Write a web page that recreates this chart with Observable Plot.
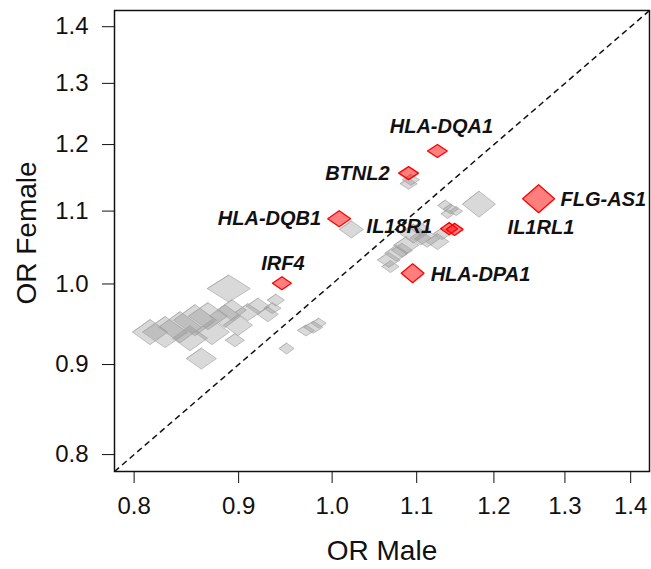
<!DOCTYPE html>
<html><head><meta charset="utf-8">
<script src="https://cdn.jsdelivr.net/npm/d3@7"></script>
<script src="https://cdn.jsdelivr.net/npm/@observablehq/plot@0.6"></script>
<style>body{margin:0;background:#fff}</style>
</head><body><div id="chart"></div>
<script>
// ---- data ----
const redGenes      = ["HLA-DQA1","BTNL2","HLA-DQB1","IRF4","HLA-DPA1","IL18R1","IL1RL1","FLG-AS1"];
const redOrMale     = [1.126, 1.090, 1.008, 0.945, 1.095, 1.141, 1.148, 1.262];
const redOrFemale   = [1.190, 1.156, 1.089, 1.001, 1.014, 1.075, 1.074, 1.118];
const redSizeMale   = [0.0112, 0.0112, 0.0129, 0.0107, 0.0129, 0.0096, 0.0096, 0.0180];
const redSizeFemale = [0.0085, 0.0085, 0.0105, 0.0085, 0.0124, 0.0079, 0.0079, 0.0183];

const grayOrMale = [
  1.180, 1.093, 1.090, 1.022, 1.136, 1.143, 1.150, 1.139,
  1.096, 1.113, 1.126, 1.132, 1.087, 1.075, 1.066, 1.068, 1.104, 1.082, 1.105,
  0.890, 0.863, 0.950, 0.979, 0.971, 0.985,
  0.8145, 0.8284, 0.8425, 0.8568, 0.8694, 0.852, 0.8733, 0.8862, 0.8932, 0.8993,
  0.9094, 0.9198, 0.9301, 0.9386, 0.935, 0.8962];
const grayOrFemale = [
  1.110, 1.146, 1.140, 1.074, 1.108, 1.103, 1.100, 1.096,
  1.068, 1.061, 1.057, 1.068, 1.052, 1.041, 1.032, 1.023, 1.075, 1.045, 1.062,
  0.994, 0.907, 0.919, 0.945, 0.941, 0.950,
  0.939, 0.939, 0.945, 0.9537, 0.9588, 0.9315, 0.939, 0.9588, 0.9664, 0.9476,
  0.9638, 0.9714, 0.9612, 0.9791, 0.9688, 0.9291];
const graySizeMale = [
  0.0186, 0.0096, 0.0096, 0.0135, 0.0084, 0.0084, 0.0073, 0.0073,
  0.0152, 0.0141, 0.0129, 0.0096, 0.0141, 0.0129, 0.0129, 0.0096, 0.0107, 0.0118, 0.0118,
  0.0242, 0.0169, 0.0084, 0.0107, 0.0096, 0.0084,
  0.0197, 0.0253, 0.0242, 0.0242, 0.0219, 0.0197, 0.0197, 0.0174, 0.0163, 0.0163,
  0.0141, 0.0129, 0.0118, 0.0096, 0.0096, 0.0107];
const graySizeFemale = [
  0.0170, 0.0072, 0.0072, 0.0111, 0.0072, 0.0065, 0.0059, 0.0059,
  0.0124, 0.0111, 0.0105, 0.0078, 0.0111, 0.0105, 0.0098, 0.0078, 0.0085, 0.0092, 0.0092,
  0.0177, 0.0137, 0.0072, 0.0078, 0.0072, 0.0065,
  0.0164, 0.0203, 0.0203, 0.0203, 0.0177, 0.0164, 0.0164, 0.0150, 0.0137, 0.0137,
  0.0111, 0.0105, 0.0098, 0.0078, 0.0072, 0.0085];

const tickValues = [0.8, 0.9, 1.0, 1.1, 1.2, 1.3, 1.4];
const axisDomain = [0.7825, 1.43];
const xTitle = "OR Male";
const yTitle = "OR Female";

// ---- label placement (layout only) ----
const labelLayout = {
  "HLA-DQA1": {anchor: "middle", dx: 4,   dy: -24},
  "BTNL2":    {anchor: "end",    dx: -19, dy: 0},
  "HLA-DQB1": {anchor: "end",    dx: -18, dy: 0},
  "IRF4":     {anchor: "middle", dx: 1,   dy: -20},
  "HLA-DPA1": {anchor: "start",  dx: 18,  dy: 1},
  "IL18R1":   {anchor: "end",    dx: -17, dy: -2},
  "IL1RL1":   {anchor: "start",  dx: 53,  dy: -2},
  "FLG-AS1":  {anchor: "start",  dx: 22,  dy: 1}
};

// build closed diamond outlines in data space (log-OR half extents)
function diamondRows(xs, ys, sx, sy, prefix) {
  const rows = [];
  xs.forEach((x, i) => {
    const y = ys[i], a = Math.exp(sx[i]), b = Math.exp(sy[i]);
    const pts = [[x / a, y], [x, y * b], [x * a, y], [x, y / b], [x / a, y], [x, y * b]];
    pts.forEach(([px, py]) => rows.push({id: prefix + i, x: px, y: py}));
  });
  return rows;
}
const grayRows = diamondRows(grayOrMale, grayOrFemale, graySizeMale, graySizeFemale, "g");
const redRows = diamondRows(redOrMale, redOrFemale, redSizeMale, redSizeFemale, "r");
const redPoints = redGenes.map((g, i) => ({gene: g, x: redOrMale[i], y: redOrFemale[i]}));

const font = "'Liberation Sans', Arial, Helvetica, sans-serif";
const fmt = d => d.toFixed(1);

const labelMarks = redPoints.map(p => {
  const L = labelLayout[p.gene];
  return Plot.text([p], {x: "x", y: "y", text: "gene", textAnchor: L.anchor, dx: L.dx, dy: L.dy,
    fontSize: 20, fontWeight: "bold", fontStyle: "italic", fill: "#111", fontFamily: font});
});

const chart = Plot.plot({
  width: 651,
  height: 569,
  marginLeft: 114,
  marginRight: 2,
  marginTop: 10,
  marginBottom: 98,
  style: {fontFamily: font, fontSize: "22px", color: "#111", background: "white"},
  x: {type: "log", domain: axisDomain, ticks: tickValues, tickFormat: () => "",
      tickSize: 12, label: null},
  y: {type: "log", domain: axisDomain, ticks: tickValues, tickFormat: () => "",
      tickSize: 12, label: null},
  marks: [
    Plot.line(grayRows, {x: "x", y: "y", z: "id", fill: "#8c8c8c", fillOpacity: 0.33,
      stroke: "#a8a8a8", strokeOpacity: 0.7, strokeWidth: 1, strokeLinejoin: "miter"}),
    Plot.link([axisDomain], {x1: d => d[0], y1: d => d[0], x2: d => d[1], y2: d => d[1],
      stroke: "#111", strokeWidth: 1.5, strokeDasharray: "6,4"}),
    Plot.line(redRows, {x: "x", y: "y", z: "id", fill: "#ff0000", fillOpacity: 0.5,
      stroke: "#ff0000", strokeWidth: 1.3, strokeLinejoin: "miter"}),
    ...labelMarks,
    Plot.frame({stroke: "#111", strokeWidth: 1.5}),
    // tick labels
    Plot.text(tickValues, {x: d => d, text: fmt, frameAnchor: "bottom", dy: 35, lineAnchor: "middle",
      fontSize: 24, fill: "#111", fontFamily: font}),
    Plot.text(tickValues, {y: d => d, text: fmt, frameAnchor: "left", dx: -26, textAnchor: "end",
      lineAnchor: "middle", fontSize: 24, fill: "#111", fontFamily: font}),
    // axis titles
    Plot.text([xTitle], {frameAnchor: "bottom", dy: 80, textAnchor: "middle", lineAnchor: "middle",
      fontSize: 28, fill: "#111", fontFamily: font}),
    Plot.text([yTitle], {frameAnchor: "left", dx: -87, dy: -8, rotate: -90, textAnchor: "middle",
      lineAnchor: "middle", fontSize: 28, fill: "#111", fontFamily: font})
  ]
});
document.getElementById("chart").appendChild(chart);
</script>
</body></html>
